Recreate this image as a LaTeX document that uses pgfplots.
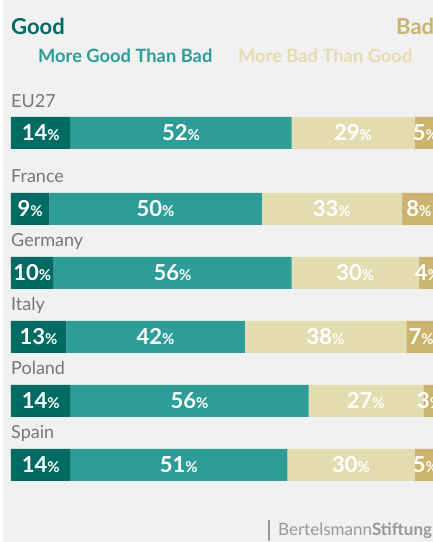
\documentclass[border=0pt]{standalone}
\usepackage{fontspec}
\setmainfont{Lato}
\usepackage{pgfplots}
\pgfplotsset{compat=1.18}
\definecolor{darkteal}{HTML}{006B63}
\definecolor{tealb}{HTML}{2E9C97}
\definecolor{beige}{HTML}{E3DCB0}
\definecolor{tanc}{HTML}{CBB46E}
\definecolor{bgc}{HTML}{F1F1F1}
\definecolor{lbl}{HTML}{777777}
\definecolor{foot}{HTML}{999999}
\pgfplotsset{base/.style={at={(11pt,0pt)}, anchor=origin, hide axis, scale only axis,
  width=425pt, height=542pt, xmin=0, xmax=100, ymin=0, ymax=542, enlargelimits=false, clip=false}}
\begin{document}
\begin{tikzpicture}
\begin{scope}
\clip (0,0) rectangle (433pt,542pt);
\fill[white] (0,0) rectangle (433pt,542pt);
\fill[bgc] (3pt,0pt) rectangle (433pt,542pt);
\begin{axis}[base, xbar stacked, bar width=32pt]
\addplot[fill=darkteal, draw=none] coordinates {(14,409) (9,333) (10,269) (13,205) (14,141) (14,77)};
\addplot[fill=tealb, draw=none] coordinates {(52,409) (50,333) (56,269) (42,205) (56,141) (51,77)};
\addplot[fill=beige, draw=none] coordinates {(29,409) (33,333) (30,269) (38,205) (27,141) (30,77)};
\addplot[fill=tanc, draw=none] coordinates {(5,409) (8,333) (4,269) (7,205) (3,141) (5,77)};
\end{axis}
\begin{axis}[base]
\addplot[draw=none, point meta=explicit symbolic,
  nodes near coords={\bfseries\fontsize{22}{22}\selectfont\pgfplotspointmeta\fontsize{15}{15}\selectfont\%},
  nodes near coords style={anchor=base, text=white, inner sep=0pt}]
  table[meta=m] {
x y m
7 401.5 14
40 401.5 52
80.5 401.5 29
97.5 401.5 5
4.5 325.5 9
34 325.5 50
75.5 325.5 33
96 325.5 8
5 261.5 10
38 261.5 56
81 261.5 30
98 261.5 4
6.5 197.5 13
34 197.5 42
74 197.5 38
96.5 197.5 7
7 133.5 14
42 133.5 56
83.5 133.5 27
98.5 133.5 3
7 69.5 14
39.5 69.5 51
80 69.5 30
97.5 69.5 5
};
\end{axis}
\node[anchor=base west, inner sep=0pt, text=darkteal, font=\bfseries\fontsize{22}{22}\selectfont] at (11pt,507.7pt) {Good};
\node[anchor=base west, inner sep=0pt, text=tanc, font=\bfseries\fontsize{22}{22}\selectfont] at (396pt,507.7pt) {Bad};
\node[anchor=base west, inner sep=0pt, text=tealb, font=\bfseries\fontsize{18.3}{18.3}\selectfont] at (38pt,479.3pt) {More Good Than Bad};
\node[anchor=base west, inner sep=0pt, text=beige, font=\bfseries\fontsize{18.3}{18.3}\selectfont] at (238pt,479.3pt) {More Bad Than Good};
\foreach \name/\yy in {EU27/434, France/359, Germany/295, Italy/231, Poland/167, Spain/103}
  \node[anchor=base west, inner sep=0pt, text=lbl, font=\fontsize{18}{18}\selectfont] at (11pt,\yy pt) {\name};
\draw[foot, line width=1.5pt] (269pt,1pt) -- (269pt,22pt);
\node[anchor=base west, inner sep=0pt, text=foot, font=\fontsize{17}{17}\selectfont] at (278pt,6pt) {Bertelsmann\textbf{Stiftung}};
\end{scope}
\pgfresetboundingbox
\useasboundingbox (0,0) rectangle (433pt,542pt);
\end{tikzpicture}
\end{document}
